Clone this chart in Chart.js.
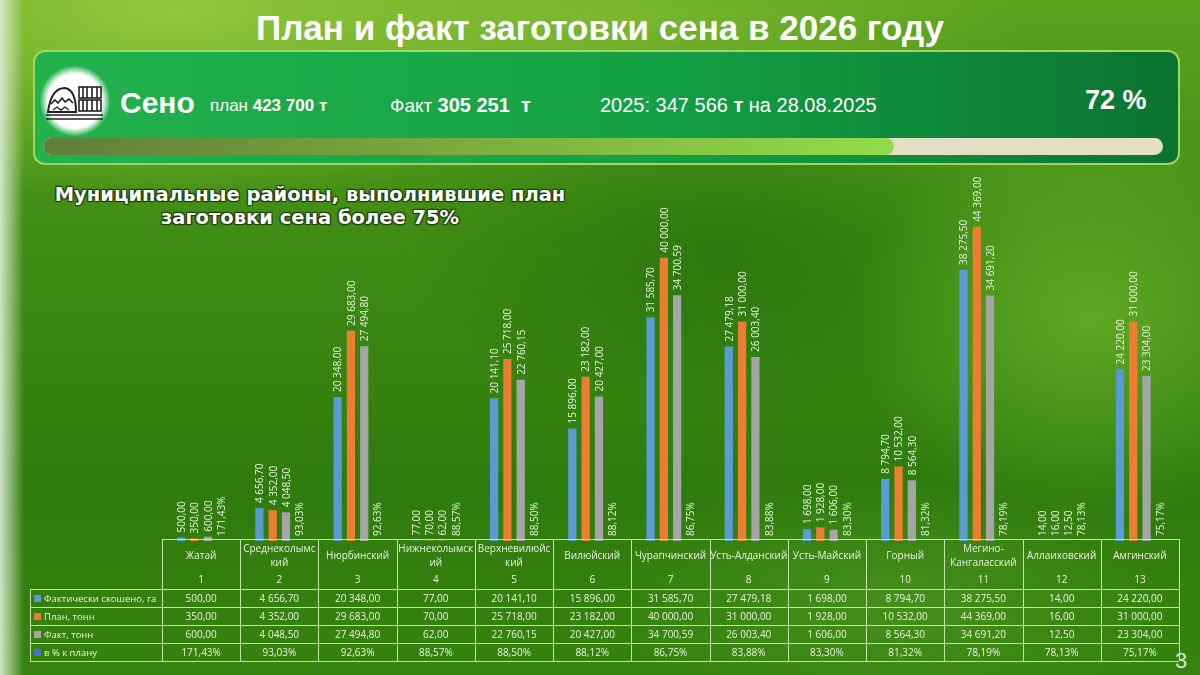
<!DOCTYPE html>
<html lang="ru">
<head>
<meta charset="utf-8">
<title>План и факт заготовки сена в 2026 году</title>
<script src="https://cdn.jsdelivr.net/npm/chart.js@4.4.1/dist/chart.umd.min.js"></script>
<style>
  html, body { margin: 0; padding: 0; }
  body {
    width: 1200px; height: 675px; overflow: hidden; position: relative;
    font-family: "Liberation Sans", Arial, sans-serif;
    background:
      radial-gradient(ellipse 240px 200px at 1090px 320px, rgba(125,195,50,0.55), rgba(125,195,50,0)),
      radial-gradient(ellipse 320px 170px at 720px 250px, rgba(25,95,8,0.45), rgba(25,95,8,0)),
      radial-gradient(ellipse 520px 190px at 170px 10px, rgba(165,212,70,0.75), rgba(165,212,70,0)),
      radial-gradient(ellipse 380px 90px at 640px 20px, rgba(150,200,60,0.5), rgba(150,200,60,0)),
      radial-gradient(ellipse 300px 120px at 900px 600px, rgba(90,160,40,0.45), rgba(90,160,40,0)),
      linear-gradient(180deg, #5ba31f 0%, #3f8c14 35%, #2f7c0e 72%, #37830f 100%);
  }
  .edge { position: absolute; left: 0; top: 0; width: 24px; height: 675px;
    background: linear-gradient(90deg, rgba(225,238,215,0.9), rgba(225,238,215,0)); }
  h1 { position: absolute; top: 8px; left: 0; width: 1200px; margin: 0; text-align: center;
    color: #fff; font-size: 35px; font-weight: bold; line-height: 40px; }
  .banner { position: absolute; left: 33px; top: 50px; width: 1143px; height: 111px;
    border: 2px solid #a2d65c; border-radius: 12px;
    background: linear-gradient(90deg, #22b24d 0%, #14a044 55%, #0a7431 100%); }
  .logo { position: absolute; left: 40px; top: 66px; width: 70px; height: 70px; border-radius: 50%;
    background: radial-gradient(circle, #fff 55%, rgba(255,255,255,0) 72%); }
  .logo svg { position: absolute; left: 5px; top: 16px; }
  .t { position: absolute; color: #fff; line-height: 1; white-space: pre; }
  .track { position: absolute; left: 43px; top: 138px; width: 1120px; height: 17px;
    border-radius: 9px; background: #e3dfc5; overflow: hidden; }
  .fill { height: 100%; width: 76%; border-radius: 9px;
    background: linear-gradient(90deg, #5f7e3a 0%, #79a83c 45%, #92dc4a 100%); }
  .sub { position: absolute; left: 30px; top: 183px; width: 560px; text-align: center;
    font-family: "DejaVu Sans", sans-serif; font-weight: bold; font-size: 19.5px; line-height: 23px;
    color: #fff; text-shadow: 1px 1px 1px #1b3a0a, -1px -1px 1px #1b3a0a, 1px -1px 1px #1b3a0a, -1px 1px 1px #1b3a0a; }
  .page { position: absolute; left: 1175px; top: 648px; color: #d8e4d0; font-size: 22px; }
  canvas { position: absolute; left: 0; top: 0; }
</style>
</head>
<body>
<div class="edge"></div>
<h1>План и факт заготовки сена в 2026 году</h1>
<div class="banner"></div>
<div class="logo">
  <svg width="60" height="40" viewBox="0 0 60 40">
    <path d="M3 30 Q6 6 20 6 Q31 8 31 30 Z" fill="#fff" stroke="#222" stroke-width="2"/>
    <path d="M6 22 l4 -4 l3 3 l4 -5 l3 4 l4 -3 l4 4" fill="none" stroke="#222" stroke-width="1.6"/>
    <path d="M8 28 l4 -3 l4 3 l4 -3 l4 3" fill="none" stroke="#222" stroke-width="1.4"/>
    <g stroke="#222" stroke-width="1.6" fill="none">
      <rect x="34" y="5" width="22" height="11"/><rect x="34" y="18" width="22" height="11"/>
      <path d="M38 5 v11 M42 5 v11 M47 5 v11 M52 5 v11 M38 18 v11 M42 18 v11 M47 18 v11 M52 18 v11"/>
    </g>
    <path d="M1 33 H58 M1 37 H58" stroke="#222" stroke-width="1.5"/>
  </svg>
</div>
<div class="t" style="left:120px;top:88px;font-size:30px;font-weight:bold;">Сено</div>
<div class="t" style="left:210px;top:97px;font-size:17px;">план <b>423 700 т</b></div>
<div class="t" style="left:390px;top:95px;font-size:19px;">Факт <b style="font-size:20px;">305 251  т</b></div>
<div class="t" style="left:600px;top:95px;font-size:20px;">2025: 347 566 <b>т</b> на 28.08.2025</div>
<div class="t" style="left:1085px;top:87px;font-size:27px;font-weight:bold;">72 %</div>
<div class="track"><div class="fill"></div></div>
<div class="sub">Муниципальные районы, выполнившие план<br>заготовки сена более 75%</div>
<div class="page">3</div>
<canvas id="myChart" width="1200" height="675"></canvas>

<script>
// районы и показатели
const categories = ['Жатай', 'Среднеколымский', 'Нюрбинский', 'Нижнеколымский', 'Верхневилюйский',
  'Вилюйский', 'Чурапчинский', 'Усть-Алданский', 'Усть-Майский', 'Горный', 'Мегино-Кангаласский',
  'Аллаиховский', 'Амгинский'];
const areaMown = [500, 4656.7, 20348, 77, 20141.1, 15896, 31585.7, 27479.18, 1698, 8794.7, 38275.5, 14, 24220];
const planTonnes = [350, 4352, 29683, 70, 25718, 23182, 40000, 31000, 1928, 10532, 44369, 16, 31000];
const factTonnes = [600, 4048.5, 27494.8, 62, 22760.15, 20427, 34700.59, 26003.4, 1606, 8564.3, 34691.2, 12.5, 23304];
const pctOfPlan = [171.43, 93.03, 92.63, 88.57, 88.5, 88.12, 86.75, 83.88, 83.3, 81.32, 78.19, 78.13, 75.17];
const seriesNames = ['Фактически скошено, га', 'План, тонн', 'Факт, тонн', 'в % к плану'];
const seriesColors = ['#5b9bd5', '#ed7d31', '#a5a5a5', '#4472c4'];

const textColor = '#e9f1dc';
const fontFamily = '"Open Sans", "Noto Sans", sans-serif';

function fmtNum(v) {
  const parts = v.toFixed(2).split('.');
  return parts[0].replace(/\B(?=(\d{3})+(?!\d))/g, ' ') + ',' + parts[1];
}
function fmtPct(v) {
  return v.toFixed(2).replace('.', ',') + '%';
}

// подписи значений над столбиками (вертикально)
const barLabels = {
  id: 'barLabels',
  afterDatasetsDraw(chart) {
    const ctx = chart.ctx;
    ctx.save();
    ctx.font = '10px ' + fontFamily;
    ctx.fillStyle = textColor;
    ctx.textAlign = 'left';
    ctx.textBaseline = 'middle';
    chart.data.datasets.forEach((ds, di) => {
      chart.getDatasetMeta(di).data.forEach((bar, i) => {
        const txt = di === 3 ? fmtPct(pctOfPlan[i]) : fmtNum(ds.data[i]);
        ctx.save();
        ctx.translate(bar.x + 1, bar.y - 5);
        ctx.rotate(-Math.PI / 2);
        ctx.fillText(txt, 0, 0);
        ctx.restore();
      });
    });
    ctx.restore();
  }
};

function wrapName(ctx, name, maxW) {
  if (ctx.measureText(name).width <= maxW + 5) return [name];
  const h = name.indexOf('-');
  if (h > 0) return [name.slice(0, h + 1), name.slice(h + 1)];
  let cut = name.length;
  while (cut > 1 && ctx.measureText(name.slice(0, cut)).width > maxW) cut--;
  return [name.slice(0, cut), name.slice(cut)];
}

// таблица данных под графиком
const dataTable = {
  id: 'dataTable',
  afterDraw(chart) {
    const ctx = chart.ctx;
    const area = chart.chartArea;
    const x = chart.scales.x;
    const n = categories.length;
    const colW = (area.right - area.left) / n;
    const top = 539, headBottom = 589, rowH = 18, legendLeft = 30;
    const rowsBottom = headBottom + rowH * 4;
    const rows = [areaMown, planTonnes, factTonnes];

    ctx.save();
    ctx.strokeStyle = 'rgba(225,238,205,0.85)';
    ctx.lineWidth = 1;
    ctx.beginPath();
    ctx.moveTo(area.left, top + 0.5); ctx.lineTo(area.right, top + 0.5);
    for (let r = 0; r <= 4; r++) {
      const y = headBottom + r * rowH + 0.5;
      ctx.moveTo(legendLeft, y); ctx.lineTo(area.right, y);
    }
    for (let c = 0; c <= n; c++) {
      const xx = Math.round(area.left + c * colW) + 0.5;
      ctx.moveTo(xx, top); ctx.lineTo(xx, rowsBottom);
    }
    ctx.moveTo(legendLeft + 0.5, headBottom); ctx.lineTo(legendLeft + 0.5, rowsBottom);
    ctx.stroke();

    ctx.fillStyle = textColor;
    ctx.font = '10px ' + fontFamily;
    ctx.textAlign = 'center';
    ctx.textBaseline = 'middle';
    categories.forEach((name, i) => {
      const cx = x.getPixelForValue(i);
      const lines = wrapName(ctx, name, colW - 2);
      if (lines.length === 1) ctx.fillText(name, cx, 556);
      else { ctx.fillText(lines[0], cx, 549); ctx.fillText(lines[1], cx, 563); }
      ctx.fillText(String(i + 1), cx, 580);
      rows.forEach((arr, r) => ctx.fillText(fmtNum(arr[i]), cx, headBottom + r * rowH + rowH / 2 + 1));
      ctx.fillText(fmtPct(pctOfPlan[i]), cx, headBottom + 3 * rowH + rowH / 2 + 1);
    });

    ctx.textAlign = 'left';
    ctx.font = '9.5px ' + fontFamily;
    seriesNames.forEach((s, r) => {
      const cy = headBottom + r * rowH + rowH / 2 + 1;
      ctx.fillStyle = seriesColors[r];
      ctx.fillRect(legendLeft + 4, cy - 4, 7, 7);
      ctx.fillStyle = textColor;
      ctx.fillText(s, legendLeft + 14, cy);
    });
    ctx.restore();
  }
};

const ctx = document.getElementById('myChart').getContext('2d');
const chart = new Chart(ctx, {
  type: 'bar',
  data: {
    labels: categories,
    datasets: [
      { label: seriesNames[0], data: areaMown, backgroundColor: seriesColors[0] },
      { label: seriesNames[1], data: planTonnes, backgroundColor: seriesColors[1] },
      { label: seriesNames[2], data: factTonnes, backgroundColor: seriesColors[2] },
      { label: seriesNames[3], data: pctOfPlan.map(v => v / 100), backgroundColor: seriesColors[3] }
    ]
  },
  options: {
    responsive: false,
    animation: false,
    categoryPercentage: 0.68,
    barPercentage: 0.62,
    layout: { padding: { left: 162, right: 21, top: 187, bottom: 134 } },
    plugins: { legend: { display: false }, tooltip: { enabled: false } },
    scales: {
      x: { display: false },
      y: { display: false, min: 0, max: 50000 }
    }
  },
  plugins: [barLabels, dataTable]
});
</script>
</body>
</html>
